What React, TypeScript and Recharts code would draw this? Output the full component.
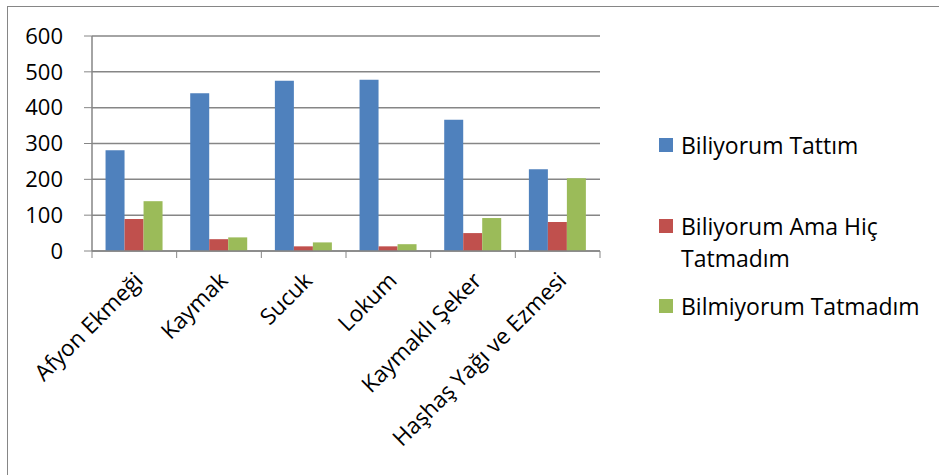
import { BarChart, Bar, XAxis, YAxis, CartesianGrid } from "recharts";

const categories = ["Afyon Ekmeği", "Kaymak", "Sucuk", "Lokum", "Kaymaklı Şeker", "Haşhaş Yağı ve Ezmesi"];
const tattim = [281, 440, 475, 478, 366, 228];
const amaHic = [89, 33, 13, 13, 50, 81];
const bilmiyorum = [139, 38, 24, 19, 92, 203];
const yTicks = [0, 100, 200, 300, 400, 500, 600];

const SERIES = [
  { key: "tattim", name: "Biliyorum Tattım", color: "#4f81bd" },
  { key: "amaHic", name: "Biliyorum Ama Hiç Tatmadım", color: "#c0504d" },
  { key: "bilmiyorum", name: "Bilmiyorum Tatmadım", color: "#9bbb59" },
];

const data = categories.map((name, i) => ({
  name,
  tattim: tattim[i],
  amaHic: amaHic[i],
  bilmiyorum: bilmiyorum[i],
}));

const FONT = "'Open Sans', sans-serif";
const GRID = "#868686";
const PLOT_W = 508;
const BAND = PLOT_W / categories.length;

function XTick(props: any) {
  const { x, y, payload, index } = props;
  const tx = x + 10;
  const ty = y + 31;
  return (
    <g>
      <line x1={x - BAND / 2} y1={y} x2={x - BAND / 2} y2={y + 7} stroke={GRID} />
      {index === categories.length - 1 && (
        <line x1={x + BAND / 2} y1={y} x2={x + BAND / 2} y2={y + 7} stroke={GRID} />
      )}
      <text
        x={tx}
        y={ty}
        textAnchor="end"
        transform={`rotate(-45, ${tx}, ${ty})`}
        fontSize={22.5}
        fontFamily={FONT}
        fill="#000"
      >
        {payload.value}
      </text>
    </g>
  );
}

function LegendBox() {
  const tops = [-1, 80, 160];
  return (
    <div style={{ position: "absolute", left: 651, top: 124, width: 280, fontFamily: FONT, fontSize: 23 }}>
      {SERIES.map((s, i) => (
        <div key={s.key} style={{ position: "absolute", left: 0, top: tops[i], display: "flex" }}>
          <div style={{ width: 14, height: 14, background: s.color, marginTop: 8, marginRight: 8 }} />
          <div style={{ width: i === 1 ? 235 : 275, lineHeight: "32px", color: "#000", marginTop: -1, whiteSpace: i === 1 ? "normal" : "nowrap" }}>
            {s.name}
          </div>
        </div>
      ))}
    </div>
  );
}

export default function App() {
  return (
    <div
      style={{
        position: "absolute",
        left: 7,
        top: 6,
        width: 931,
        height: 469,
        borderLeft: "1px solid #868686",
        borderTop: "1px solid #868686",
        background: "#fff",
      }}
    >
      <BarChart
        width={931}
        height={468}
        data={data}
        margin={{ top: 29, right: 339, left: 0, bottom: 0 }}
        barCategoryGap="16%"
        barGap={0}
      >
        <CartesianGrid vertical={false} stroke={GRID} strokeWidth={1.5} />
        <XAxis
          dataKey="name"
          height={224}
          interval={0}
          tickLine={false}
          tickSize={0}
          tickMargin={0}
          axisLine={{ stroke: GRID, strokeWidth: 1.5 }}
          tick={<XTick />}
        />
        <YAxis
          width={84}
          domain={[0, 600]}
          ticks={yTicks}
          interval={0}
          tickSize={8}
          tickMargin={21}
          axisLine={{ stroke: GRID, strokeWidth: 1.5 }}
          tickLine={{ stroke: GRID }}
          tick={{ fontSize: 22, fontFamily: FONT, fill: "#000" }}
        />
        {SERIES.map((s) => (
          <Bar key={s.key} dataKey={s.key} name={s.name} fill={s.color} isAnimationActive={false} />
        ))}
      </BarChart>
      <LegendBox />
    </div>
  );
}
